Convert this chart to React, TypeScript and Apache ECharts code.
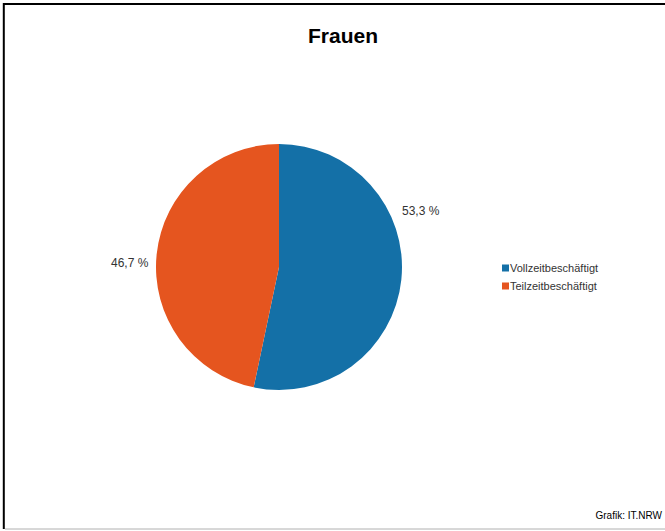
import React, { useEffect, useRef } from "react";
import * as echarts from "echarts";

const categories = ["Vollzeitbeschäftigt", "Teilzeitbeschäftigt"];
const values = [53.3, 46.7];
const colors = ["#1470a7", "#e5551f"];
const titleText = "Frauen";
const sourceText = "Grafik: IT.NRW";

export default function App() {
  const ref = useRef<HTMLDivElement>(null);
  useEffect(() => {
    if (!ref.current) return;
    const chart = echarts.init(ref.current, undefined, { renderer: "svg" });
    const labelPos = [
      { x: 402, y: 211 },
      { x: 111, y: 263 },
    ];
    chart.setOption({
      animation: false,
      backgroundColor: "#ffffff",
      title: {
        text: titleText,
        left: 338,
        top: 20,
        textAlign: "center",
        textStyle: {
          fontFamily: "Liberation Sans, Arial, sans-serif",
          fontSize: 21,
          fontWeight: "bold",
          color: "#000000",
        },
      },
      legend: {
        orient: "vertical",
        left: 497,
        top: 257,
        icon: "rect",
        itemWidth: 7,
        itemHeight: 7,
        itemGap: 6,
        data: categories,
        textStyle: {
          fontFamily: "Liberation Sans, Arial, sans-serif",
          fontSize: 11,
          lineHeight: 12,
          color: "#333333",
          padding: [0, 0, 0, -4],
        },
      },
      graphic: [
        {
          type: "line",
          shape: { x1: 3.8, y1: 3, x2: 3.8, y2: 529 },
          style: { stroke: "#000000", lineWidth: 2 },
        },
        {
          type: "line",
          shape: { x1: 3, y1: 4, x2: 665, y2: 4 },
          style: { stroke: "#000000", lineWidth: 2 },
        },
        {
          type: "line",
          shape: { x1: 5, y1: 529, x2: 665, y2: 529 },
          style: { stroke: "#b0b0b0", lineWidth: 1 },
        },
        {
          type: "text",
          right: 3,
          top: 510,
          style: {
            text: sourceText,
            fontFamily: "Liberation Sans, Arial, sans-serif",
            fontSize: 10,
            fill: "#000000",
          },
        },
      ],
      series: [
        {
          type: "pie",
          center: [279, 267],
          radius: 123,
          startAngle: 90,
          clockwise: true,
          avoidLabelOverlap: false,
          label: {
            show: true,
            position: "outside",
            fontFamily: "Liberation Sans, Arial, sans-serif",
            fontSize: 12,
            color: "#333333",
            formatter: (p: any) => String(p.value.toFixed(1)).replace(".", ",") + " %",
          },
          labelLine: { show: false },
          labelLayout: (p: any) => ({
            x: labelPos[p.dataIndex].x,
            y: labelPos[p.dataIndex].y,
            align: "left",
            verticalAlign: "middle",
          }),
          emphasis: { disabled: true },
          itemStyle: { borderWidth: 0 },
          data: categories.map((c, i) => ({
            name: c,
            value: values[i],
            itemStyle: { color: colors[i] },
          })),
        },
      ],
    });
    return () => chart.dispose();
  }, []);
  return (
    <div
      ref={ref}
      style={{ position: "absolute", left: 0, top: 0, width: 665, height: 531 }}
    />
  );
}
